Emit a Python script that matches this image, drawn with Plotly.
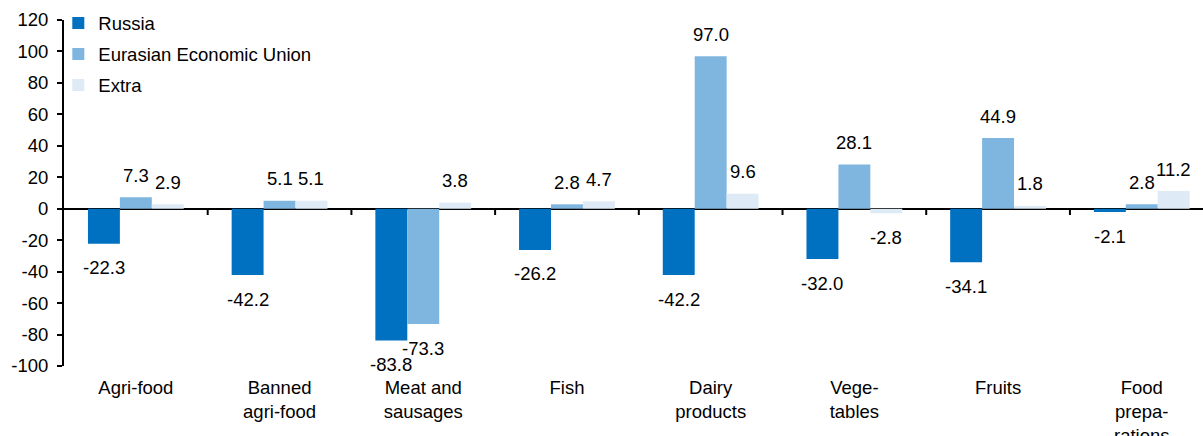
import plotly.graph_objects as go

categories = ["Agri-food", "Banned<br>agri-food", "Meat and<br>sausages", "Fish",
              "Dairy<br>products", "Vege-<br>tables", "Fruits", "Food<br>prepa-<br>rations"]
series_names = ["Russia", "Eurasian Economic Union", "Extra"]
russia = [-22.3, -42.2, -83.8, -26.2, -42.2, -32.0, -34.1, -2.1]
eeu = [7.3, 5.1, -73.3, 2.8, 97.0, 28.1, 44.9, 2.8]
extra = [2.9, 5.1, 3.8, 4.7, 9.6, -2.8, 1.8, 11.2]
colors = ["#0070C0", "#7FB6DF", "#DEEBF7"]
y_ticks = list(range(-100, 121, 20))

FONT = "Liberation Sans, Arial, sans-serif"
FS = 18.5
BARGAP = 1 / 3
n_series = 3
bar_w = (1 - BARGAP) / n_series

xs = list(range(len(categories)))
fig = go.Figure()
all_series = [russia, eeu, extra]
for k, (name, vals, col) in enumerate(zip(series_names, all_series, colors)):
    fig.add_trace(go.Bar(
        x=xs, y=vals, name=name, marker=dict(color=col, line=dict(width=0)),
        legendgroup=name,
    ))

annotations = []
for k, vals in enumerate(all_series):
    off = (k - (n_series - 1) / 2) * bar_w
    for i, v in enumerate(vals):
        annotations.append(dict(
            x=i + off, y=v, xref="x", yref="y", text=f"{v:.1f}", showarrow=False,
            yshift=22 if v >= 0 else -24, yanchor="middle", xanchor="center",
            font=dict(family=FONT, size=FS, color="black"),
        ))

shapes = []
for i in range(len(categories)):
    shapes.append(dict(type="line", xref="x", yref="y", x0=i + 0.5, x1=i + 0.5,
                       y0=0, y1=-4, line=dict(color="black", width=2)))

fig.update_layout(
    width=1203, height=436,
    margin=dict(l=64, r=0, t=20, b=70),
    paper_bgcolor="white", plot_bgcolor="white",
    barmode="group", bargap=BARGAP, bargroupgap=0,
    font=dict(family=FONT, size=FS, color="black"),
    showlegend=True,
    legend=dict(x=-0.005, y=1.045, xanchor="left", yanchor="top",
                font=dict(family=FONT, size=FS, color="black"),
                traceorder="grouped", tracegroupgap=4, itemwidth=30,
                bgcolor="rgba(0,0,0,0)"),
    annotations=annotations,
    shapes=shapes,
)
fig.update_xaxes(
    range=[-0.5, 7.426], tickvals=xs, ticktext=categories,
    showline=False, ticks="", showgrid=False, zeroline=False,
    ticklabelstandoff=8, automargin=False,
    tickfont=dict(family=FONT, size=FS, color="black"),
)
fig.update_yaxes(
    range=[-100, 120], tickvals=y_ticks, ticktext=[str(t) for t in y_ticks],
    showline=True, linecolor="black", linewidth=2, ticks="outside", ticklen=5,
    tickcolor="black", tickwidth=2, showgrid=False,
    zeroline=True, zerolinecolor="black", zerolinewidth=2,
    ticklabelstandoff=5, automargin=False,
    tickfont=dict(family=FONT, size=FS, color="black"),
)
fig.write_html("out.html")
